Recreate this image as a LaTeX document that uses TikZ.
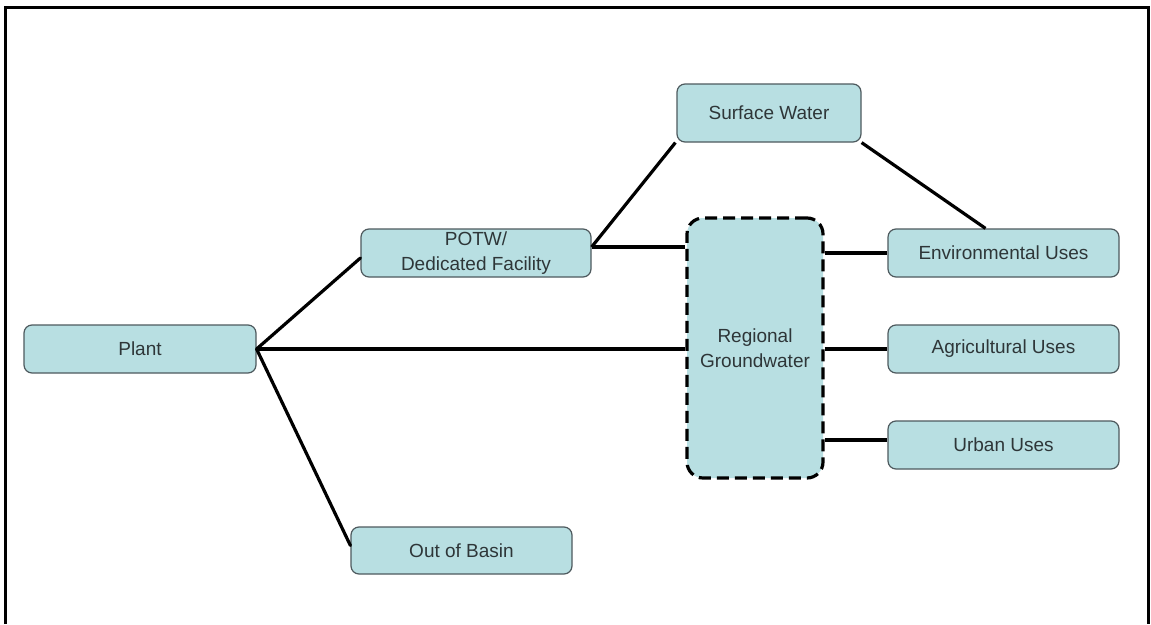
\documentclass[tikz,border=0pt]{standalone}
\usepackage{fontspec}
\setmainfont{Liberation Sans}
\usetikzlibrary{calc}
\definecolor{boxfill}{HTML}{B8DFE2}
\definecolor{boxline}{HTML}{4E5A5E}
\definecolor{txt}{HTML}{2E3638}
\tikzset{
  box/.style={draw=boxline, line width=1.2pt, fill=boxfill, rounded corners=8pt,
    inner sep=0pt, text=txt, font=\fontsize{19}{25}\selectfont, align=center},
  gwbox/.style={draw=black, line width=3.2pt, dash pattern=on 12pt off 6pt, fill=boxfill,
    rounded corners=16pt, inner sep=0pt, text=txt, font=\fontsize{19}{25}\selectfont, align=center},
  link/.style={draw=black, line width=3.2pt},
}
\begin{document}
\begin{tikzpicture}[x=1pt,y=-1pt]
\useasboundingbox (0,0) rectangle (1151,624);
\fill[white] (0,0) rectangle (1151,624);
\draw[line width=3pt] (5,624) -- (5,7) -- (1148,7) -- (1148,624);

\node[box, minimum width=232pt, minimum height=48pt] (plant) at (140,349) {Plant};
\node[box, minimum width=230pt, minimum height=48pt] (potw) at (476,253) {POTW/\\Dedicated Facility};
\node[gwbox, minimum width=136pt, minimum height=260pt] (rg) at (755,348) {Regional\\Groundwater};
\node[box, minimum width=184pt, minimum height=58pt] (sw) at (769,113) {Surface Water};
\node[box, minimum width=231pt, minimum height=48pt] (env) at (1003.5,253) {Environmental Uses};
\node[box, minimum width=231pt, minimum height=48pt] (ag) at (1003.5,349) {Agricultural Uses};
\node[box, minimum width=231pt, minimum height=48pt] (urban) at (1003.5,445) {Urban Uses};
\node[box, minimum width=221pt, minimum height=47pt] (out) at (461.5,550.5) {Out of Basin};

\coordinate (potwE) at ($(potw.east)+(0,-6)$);
\coordinate (urbW) at ($(urban.west)+(0,-5)$);

\draw[link, line cap=round] (plant.east) -- ($(potw.west)+(0,5)$);
\draw[link] (plant.east) -- (rg.west |- plant.east);
\draw[link, line cap=round] (plant.east) -- ($(out.west)+(0,-5)$);
\draw[link] (potwE) -- (rg.west |- potwE);
\draw[link] (potwE) -- ($(sw.south west)+(-1,0)$);
\draw[link] (sw.south east) -- ($(env.north)+(-18,0)$);
\draw[link] (rg.east |- env.west) -- (env.west);
\draw[link] (rg.east |- ag.west) -- (ag.west);
\draw[link] (rg.east |- urbW) -- (urbW);
\end{tikzpicture}
\end{document}
